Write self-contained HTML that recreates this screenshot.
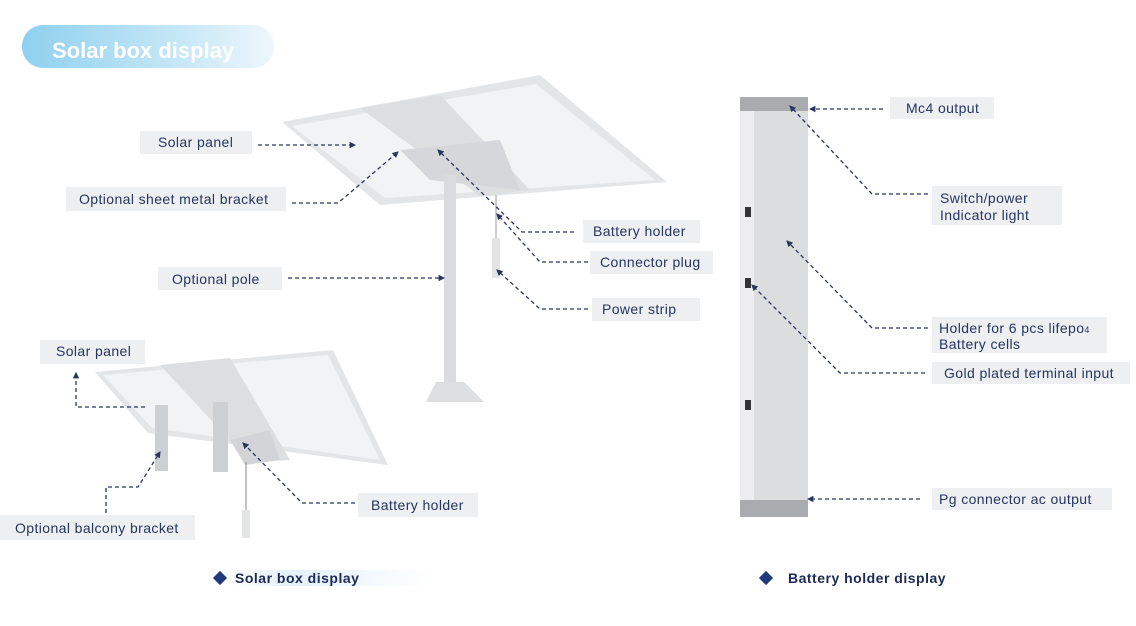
<!DOCTYPE html>
<html><head><meta charset="utf-8"><style>
body{margin:0;background:#fff;}
svg{display:block;font-family:"Liberation Sans","DejaVu Sans",sans-serif;}
.l{fill:#eeeff1}
.t{fill:#263562;font-size:14px;letter-spacing:0.4px}
.d{stroke:#2a3560;stroke-width:1.3;stroke-dasharray:4 3;fill:none}
</style></head><body>
<svg width="1136" height="626" viewBox="0 0 1136 626">
<defs>
<linearGradient id="hp" x1="0" x2="1"><stop offset="0" stop-color="#8fd0ef"/><stop offset="0.6" stop-color="#c4e6f6"/><stop offset="1" stop-color="#eef7fc"/></linearGradient>
<linearGradient id="cb" x1="0" x2="1"><stop offset="0" stop-color="#fff"/><stop offset="0.3" stop-color="#e3f1fa"/><stop offset="1" stop-color="#fff"/></linearGradient>
<marker id="a" viewBox="0 0 6 6" refX="5" refY="3" markerWidth="5" markerHeight="5" orient="auto"><path d="M0,0L6,3L0,6z" fill="#2a3560"/></marker>
</defs>
<rect x="22" y="25" width="252" height="43" rx="21" fill="url(#hp)"/>
<text x="52" y="58" fill="#fff" font-size="22" font-weight="bold">Solar box display</text>

<!-- top solar panel -->
<polygon points="282,122 540,75 667,182 380,205" fill="#e3e5e7"/>
<polygon points="292,126 536,84 655,180 385,198" fill="#f2f3f4"/>
<polygon points="360,108 440,95 530,190 480,196" fill="#dcdee0"/>
<polygon points="400,150 500,140 520,190 430,180" fill="#d5d7da"/>
<rect x="444" y="175" width="12" height="207" fill="#d9dbde"/>
<polygon points="436,382 464,382 484,402 426,402" fill="#dcdee1"/>
<rect x="492" y="238" width="8" height="40" fill="#e3e4e6"/>
<line x1="496" y1="195" x2="496" y2="238" stroke="#999" stroke-width="1"/>

<!-- bottom-left panel -->
<polygon points="95,372 333,350 388,465 148,433" fill="#e3e5e7"/>
<polygon points="103,375 328,355 380,460 152,428" fill="#f2f3f4"/>
<polygon points="160,365 230,358 290,460 250,462" fill="#dcdee0"/>
<rect x="155" y="405" width="13" height="66" fill="#cdd0d3"/>
<rect x="213" y="402" width="15" height="70" fill="#cdd0d3"/>
<polygon points="230,440 270,430 280,460 245,465" fill="#d2d4d7"/>
<line x1="246" y1="462" x2="246" y2="510" stroke="#888"/>
<rect x="242" y="510" width="8" height="28" fill="#e3e4e6"/>

<!-- battery -->
<rect x="740" y="97" width="68" height="420" fill="#dcdddf"/>
<rect x="740" y="110" width="14" height="392" fill="#ededef"/>
<rect x="740" y="97" width="68" height="14" fill="#a9abae"/>
<rect x="740" y="500" width="68" height="17" fill="#a9abae"/>
<rect x="745" y="207" width="6" height="10" fill="#333"/>
<rect x="745" y="278" width="6" height="10" fill="#333"/>
<rect x="745" y="400" width="6" height="10" fill="#333"/>

<!-- top labels -->
<rect class="l" x="140" y="131" width="112" height="23"/><text class="t" x="158" y="147">Solar panel</text>
<path class="d" d="M258,145H355" marker-end="url(#a)"/>
<rect class="l" x="66" y="187" width="220" height="24"/><text class="t" x="79" y="204">Optional sheet metal bracket</text>
<path class="d" d="M292,203H338L398,152" marker-end="url(#a)"/>
<rect class="l" x="583" y="220" width="117" height="23"/><text class="t" x="593" y="236">Battery holder</text>
<path class="d" d="M574,232H522L438,150" marker-end="url(#a)"/>
<rect class="l" x="590" y="251" width="123" height="23"/><text class="t" x="600" y="267">Connector plug</text>
<path class="d" d="M588,262H540L497,214" marker-end="url(#a)"/>
<rect class="l" x="592" y="298" width="108" height="23"/><text class="t" x="602" y="314">Power strip</text>
<path class="d" d="M588,309H540L497,270" marker-end="url(#a)"/>
<rect class="l" x="158" y="267" width="124" height="23"/><text class="t" x="172" y="284">Optional pole</text>
<path class="d" d="M288,278H444" marker-end="url(#a)"/>

<!-- bottom-left labels -->
<rect class="l" x="40" y="340" width="105" height="24"/><text class="t" x="56" y="356">Solar panel</text>
<path class="d" d="M145,407H76V373" marker-end="url(#a)"/>
<rect class="l" x="0" y="515" width="195" height="25"/><text class="t" x="15" y="533">Optional balcony bracket</text>
<path class="d" d="M106,513V487H138L160,452" marker-end="url(#a)"/>
<rect class="l" x="358" y="493" width="120" height="24"/><text class="t" x="371" y="510">Battery holder</text>
<path class="d" d="M355,503H302L243,443" marker-end="url(#a)"/>

<!-- battery labels -->
<rect class="l" x="890" y="97" width="104" height="22"/><text class="t" x="906" y="113">Mc4 output</text>
<path class="d" d="M883,109H810" marker-end="url(#a)"/>
<rect class="l" x="932" y="186" width="130" height="39"/><text class="t" x="940" y="203">Switch/power</text><text class="t" x="940" y="220">Indicator light</text>
<path class="d" d="M928,194H872L790,106" marker-end="url(#a)"/>
<rect class="l" x="932" y="317" width="175" height="36"/><text class="t" x="939" y="333">Holder for 6 pcs lifepo<tspan font-size="9">4</tspan></text><text class="t" x="939" y="349">Battery cells</text>
<path class="d" d="M928,328H872L787,241" marker-end="url(#a)"/>
<rect class="l" x="932" y="362" width="198" height="22"/><text class="t" x="944" y="378">Gold plated terminal input</text>
<path class="d" d="M925,373H840L752,285" marker-end="url(#a)"/>
<rect class="l" x="932" y="488" width="180" height="22"/><text class="t" x="939" y="504">Pg connector ac output</text>
<path class="d" d="M920,499H808" marker-end="url(#a)"/>

<!-- captions -->
<rect x="230" y="570" width="200" height="16" fill="url(#cb)"/>
<rect x="215" y="573" width="10" height="10" fill="#1f3a7a" transform="rotate(45 220 578)"/>
<text x="235" y="583" fill="#1c2a55" font-size="14" font-weight="bold" letter-spacing="0.5">Solar box display</text>
<rect x="761" y="573" width="10" height="10" fill="#1f3a7a" transform="rotate(45 766 578)"/>
<text x="788" y="583" fill="#1c2a55" font-size="14" font-weight="bold" letter-spacing="0.5">Battery holder display</text>
</svg>
</body></html>
